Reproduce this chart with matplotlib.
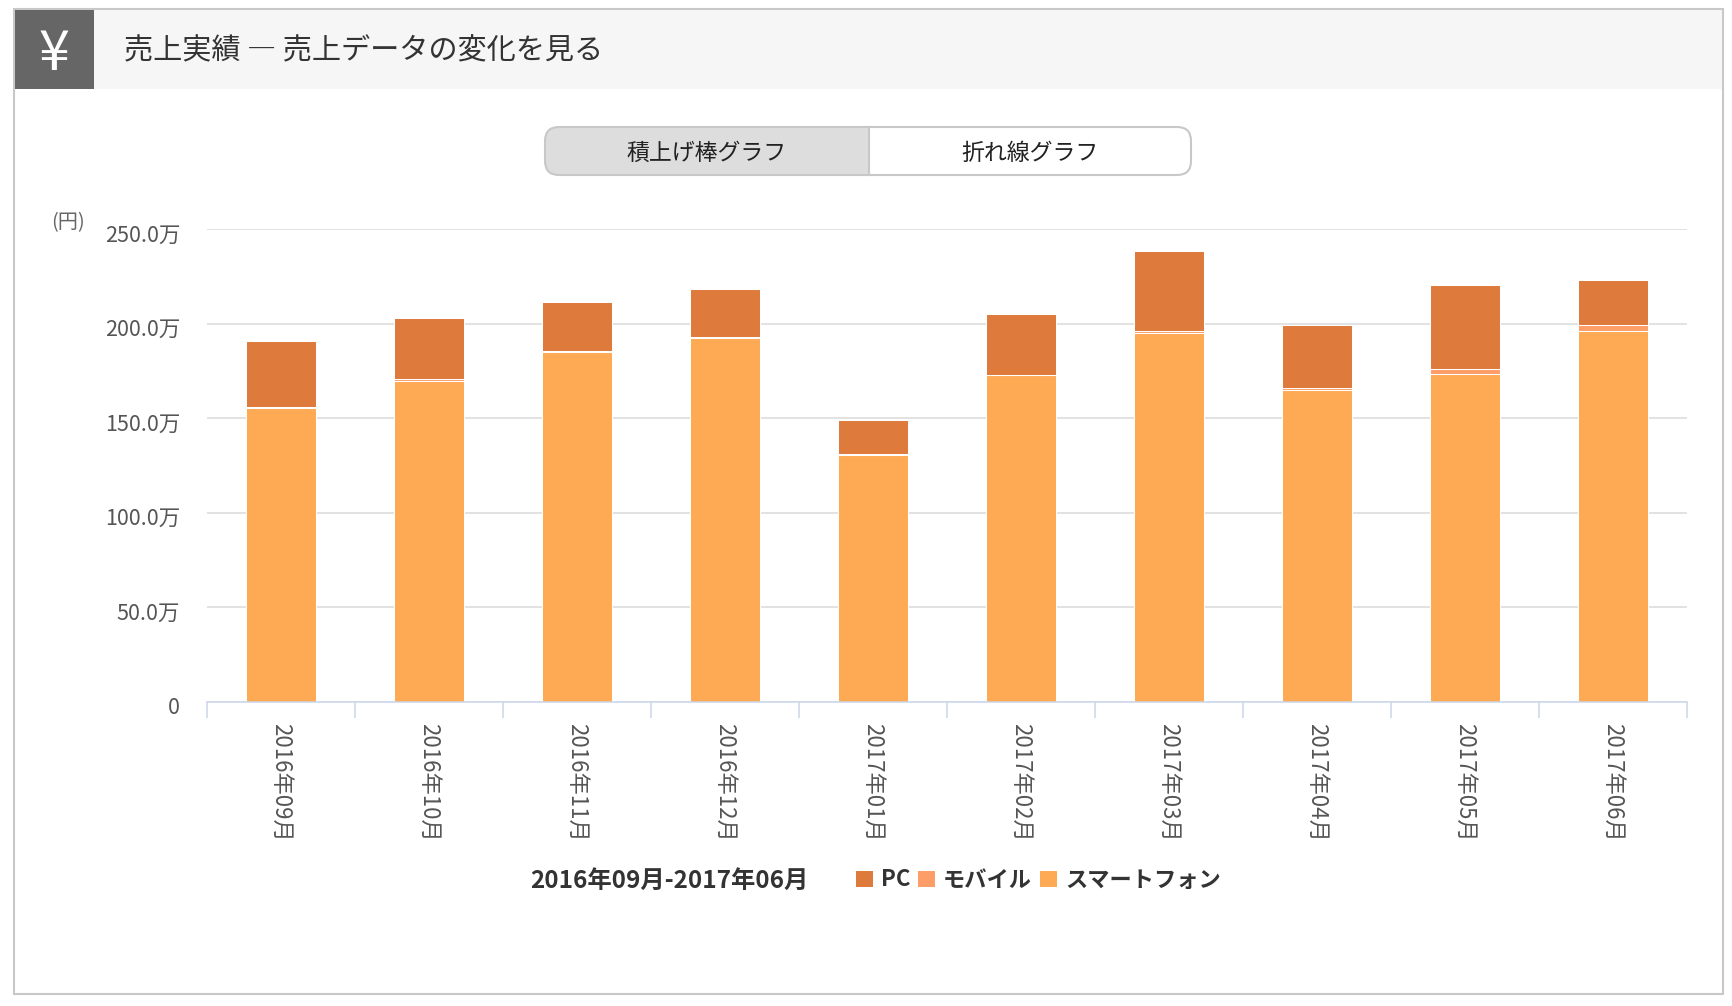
import matplotlib
matplotlib.use('Agg')
import matplotlib.pyplot as plt
from matplotlib.patches import Rectangle, FancyBboxPatch
import matplotlib.transforms as mtransforms
import numpy as np

plt.rcParams['font.family'] = ['Noto Sans CJK JP', 'DejaVu Sans']

# monthly sales, unit: 万円
months = ['2016年09月', '2016年10月', '2016年11月', '2016年12月', '2017年01月',
          '2017年02月', '2017年03月', '2017年04月', '2017年05月', '2017年06月']
pc = [34.8, 32.1, 26.2, 25.4, 18.0, 32.0, 42.4, 33.1, 44.5, 23.6]
mobile = [0.5, 1.2, 0.5, 0.4, 0.4, 0.3, 0.6, 1.2, 2.2, 3.2]
smartphone = [155.3, 169.6, 184.9, 192.5, 130.6, 172.6, 195.2, 164.9, 173.5, 196.2]
series_names = ['PC', 'モバイル', 'スマートフォン']
series_colors = ['#de7a3c', '#fd9e68', '#feaa54']
y_ticks = [0, 50, 100, 150, 200, 250]
title = '売上実績 ― 売上データの変化を見る'
buttons = ['積上げ棒グラフ', '折れ線グラフ']

W, H = 1732, 1006
fig = plt.figure(figsize=(W / 100, H / 100), dpi=100)


def fx(px):
    return px / W


def fy(py):
    return 1 - py / H


# page furniture, drawn in pixel coords
bg = fig.add_axes([0, 0, 1, 1])
bg.set_xlim(0, W)
bg.set_ylim(H, 0)
bg.axis('off')

bg.add_patch(Rectangle((14, 9), 1709, 985, facecolor='white', edgecolor='#c8c8c8', lw=1.5))
bg.add_patch(Rectangle((15, 10), 1707, 79, facecolor='#f6f6f6', edgecolor='none'))
bg.add_patch(Rectangle((15, 10), 79, 79, facecolor='#666666', edgecolor='none'))
bg.text(54, 54, '¥', color='white', fontsize=40, ha='center', va='center')
bg.text(124, 51, title, fontsize=21, color='#333333', va='center')

# toggle buttons
bx0, bx1, bmid, by0, by1 = 545, 1191, 869, 127, 175
for fill, (cx0, cx1) in [('#dddddd', (bx0, bmid)), ('white', (bmid, bx1))]:
    p = FancyBboxPatch((bx0, by0), bx1 - bx0, by1 - by0,
                       boxstyle='round,pad=0,rounding_size=14',
                       facecolor=fill, edgecolor='none')
    bg.add_patch(p)
    p.set_clip_path(Rectangle((cx0, 0), cx1 - cx0, H, transform=bg.transData))
bg.add_patch(FancyBboxPatch((bx0, by0), bx1 - bx0, by1 - by0,
                            boxstyle='round,pad=0,rounding_size=14',
                            facecolor='none', edgecolor='#c8c8c8', lw=1.5))
bg.plot([bmid, bmid], [by0, by1], color='#c8c8c8', lw=1.5)
bg.text((bx0 + bmid) / 2, 153, buttons[0], fontsize=16.5, color='#222222', ha='center', va='center')
bg.text((bmid + bx1) / 2, 153, buttons[1], fontsize=16.5, color='#222222', ha='center', va='center')

bg.text(51, 223, '(円)', fontsize=14.5, color='#666666', va='center')

# chart
ax = fig.add_axes([fx(207), fy(701.7), fx(1687) - fx(207), (701.7 - 229) / H])
ax.set_facecolor('none')
x = np.arange(len(months))
sp = np.array(smartphone)
mo = np.array(mobile)
bw = 0.473
b_sp = ax.bar(x, sp, width=bw, color=series_colors[2], edgecolor='white', linewidth=0.75)
b_mo = ax.bar(x, mo, bottom=sp, width=bw, color=series_colors[1], edgecolor='white', linewidth=0.75)
b_pc = ax.bar(x, pc, bottom=sp + mo, width=bw, color=series_colors[0], edgecolor='white', linewidth=0.75)

ax.set_xlim(-0.5, len(months) - 0.5)
ax.set_ylim(0, 250)
for s in ['top', 'left', 'right']:
    ax.spines[s].set_visible(False)
ax.spines['bottom'].set_color('#ccd6eb')
ax.spines['bottom'].set_linewidth(1.1)

ax.set_yticks(y_ticks)
ax.set_yticklabels([f'{v:.1f}万' if v else '0' for v in y_ticks])
ax.yaxis.grid(True, color='#dadada', lw=1.1)
ax.set_axisbelow(True)
ax.tick_params(axis='y', length=0, pad=19.4, labelsize=15.5, labelcolor='#555555')
shift = mtransforms.ScaledTranslation(0, -0.04, fig.dpi_scale_trans)
for lbl in ax.get_yticklabels():
    lbl.set_transform(lbl.get_transform() + shift)

ax.set_xticks(x)
ax.set_xticklabels(months)
ax.set_xticks(np.arange(len(months) + 1) - 0.5, minor=True)
ax.tick_params(axis='x', which='major', length=0, pad=15, labelsize=16,
               labelcolor='#555555', labelrotation=270)
ax.tick_params(axis='x', which='minor', length=11.5, width=1.1, color='#ccd6eb')

# legend
bg.text(530, 881, f'{months[0]}-{months[-1]}', fontsize=17.5, fontweight='bold',
        color='#333333', va='center')
fig.legend(handles=[b_pc, b_mo, b_sp], labels=series_names, loc='center left',
           bbox_to_anchor=(fx(855), fy(880)), ncol=3, frameon=False,
           prop={'size': 16, 'weight': 'bold'}, labelcolor='#333333',
           handlelength=0.8, handleheight=0.8, handletextpad=0.37,
           columnspacing=0.3, borderpad=0, borderaxespad=0)

fig.savefig('out.png', dpi=100)
